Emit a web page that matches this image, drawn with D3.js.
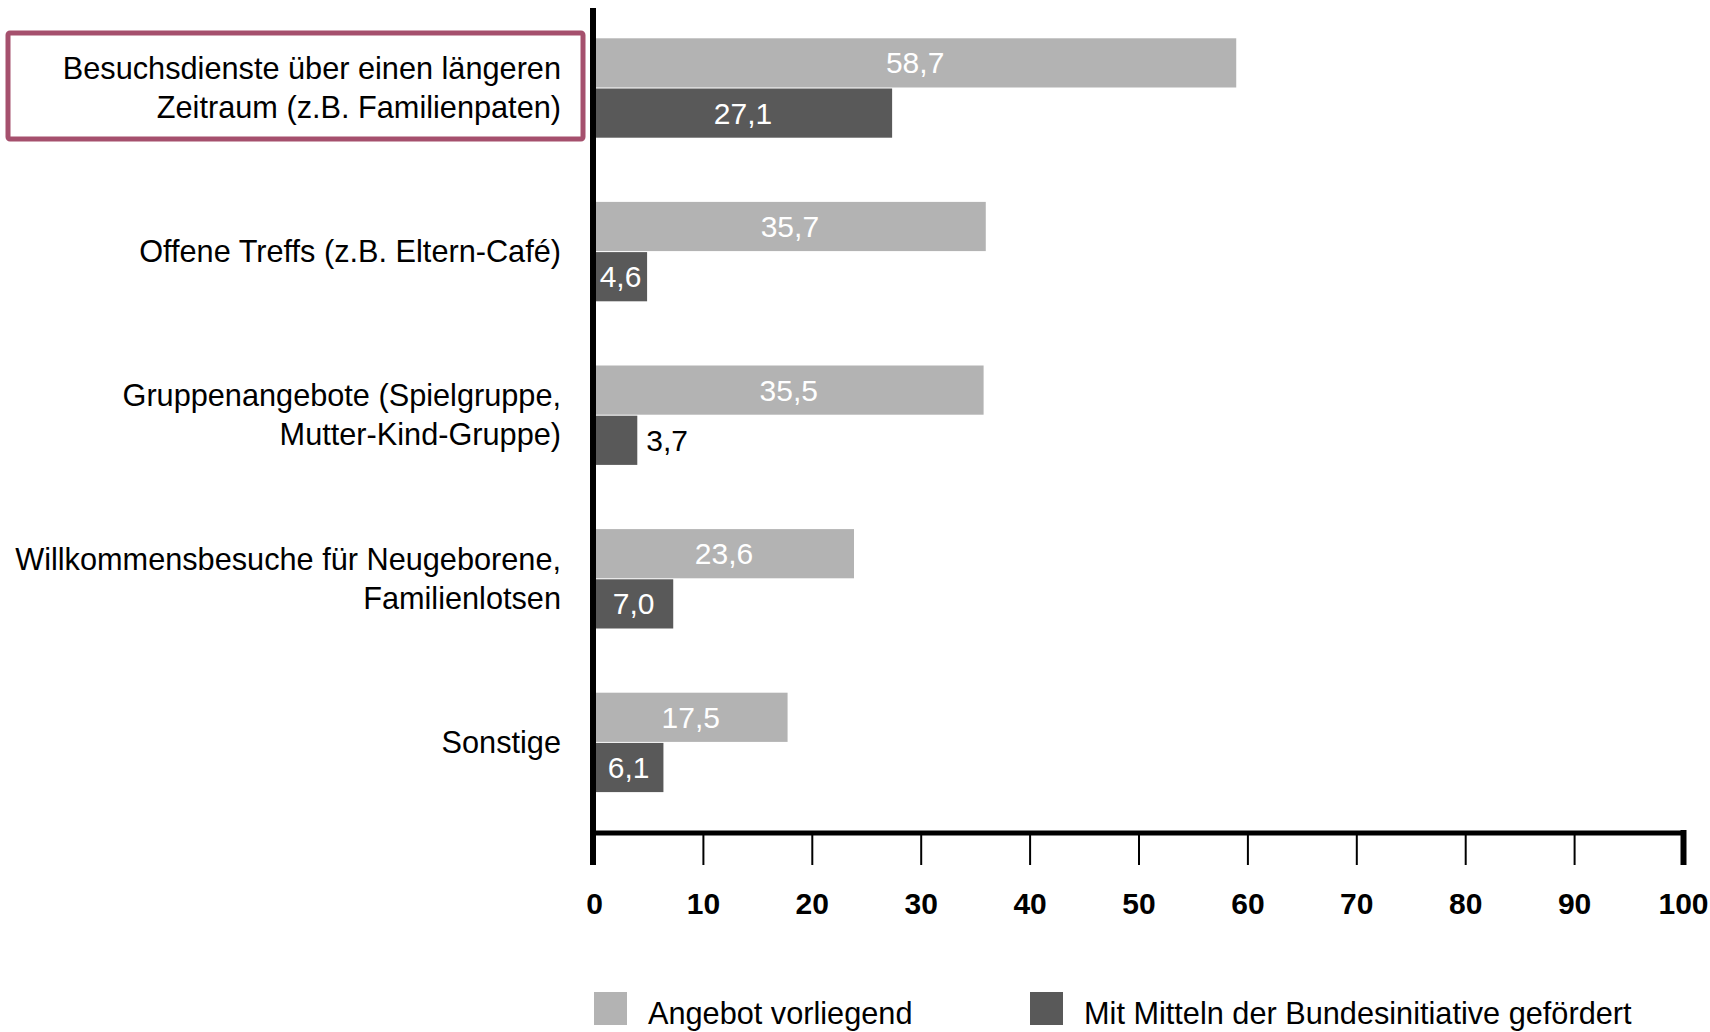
<!DOCTYPE html>
<html><head><meta charset="utf-8">
<script src="https://cdn.jsdelivr.net/npm/d3@7"></script>
<style>html,body{margin:0;padding:0;background:#fff;}svg{display:block;font-family:"Liberation Sans",Arial,sans-serif;}</style>
</head><body>
<svg id="chart" width="1710" height="1032"></svg>
<script>
const categories = [
  ["Besuchsdienste über einen längeren", "Zeitraum (z.B. Familienpaten)"],
  ["Offene Treffs (z.B. Eltern-Café)"],
  ["Gruppenangebote (Spielgruppe,", "Mutter-Kind-Gruppe)"],
  ["Willkommensbesuche für Neugeborene,", "Familienlotsen"],
  ["Sonstige"]
];
const angebot = [58.7, 35.7, 35.5, 23.6, 17.5];
const gefoerdert = [27.1, 4.6, 3.7, 7.0, 6.1];
const seriesNames = ["Angebot vorliegend", "Mit Mitteln der Bundesinitiative gefördert"];
const seriesColors = ["#b3b3b3", "#595959"];
const xTicks = [0, 10, 20, 30, 40, 50, 60, 70, 80, 90, 100];

const svg = d3.select("#chart");
const fmt = v => d3.format(".1f")(v).replace(".", ",");
const catIds = categories.map((c, i) => i);

const x = d3.scaleLinear().domain([0, 100]).range([594, 1683]);
const y = d3.scaleBand().domain(catIds).range([6.2, 6.2 + 5 * 163.6]).paddingInner(0);
const inner = d3.scaleBand().domain([0, 1])
  .range([y.bandwidth() / 2 - 49.7, y.bandwidth() / 2 + 49.7]).paddingInner(0.02);

// highlight box around first label
svg.append("rect").attr("x", 8).attr("y", 33).attr("width", 575).attr("height", 106)
  .attr("rx", 2).attr("fill", "none").attr("stroke", "#a5506d").attr("stroke-width", 5);

// bars
const data = [];
catIds.forEach(i => {
  data.push({cat: i, s: 0, v: angebot[i]});
  data.push({cat: i, s: 1, v: gefoerdert[i]});
});
const g = svg.append("g");
g.selectAll("rect.bar").data(data).join("rect").attr("class", "bar")
  .attr("x", x(0))
  .attr("y", d => y(d.cat) + inner(d.s))
  .attr("width", d => x(d.v) - x(0) + 3)
  .attr("height", inner.bandwidth())
  .attr("fill", d => seriesColors[d.s]);

// value labels
g.selectAll("text.val").data(data).join("text").attr("class", "val")
  .attr("font-size", 30)
  .attr("dy", "0.35em")
  .attr("y", d => y(d.cat) + inner(d.s) + inner.bandwidth() / 2)
  .each(function(d) {
    const t = d3.select(this).text(fmt(d.v));
    const w = this.getComputedTextLength();
    const bw = x(d.v) - x(0) + 3;
    if (w + 4 < bw) {
      t.attr("x", x(0) + bw / 2).attr("text-anchor", "middle").attr("fill", "#fff");
    } else {
      t.attr("x", x(0) + bw + 9).attr("text-anchor", "start").attr("fill", "#000");
    }
  });

// category labels
const lab = svg.append("g");
catIds.forEach(i => {
  const lines = categories[i];
  const cy = y(i) + y.bandwidth() / 2;
  const lh = 39;
  lines.forEach((ln, j) => {
    lab.append("text").attr("x", 561).attr("y", cy + (j - (lines.length - 1) / 2) * lh)
      .attr("dy", "0.35em").attr("text-anchor", "end").attr("font-size", 30.7)
      .attr("fill", "#000").text(ln);
  });
});

// x axis
const axisY = 833;
const xAxis = d3.axisBottom(x).tickValues(xTicks).tickSize(32).tickPadding(28).tickFormat(d3.format("d"));
const ax = svg.append("g").attr("transform", `translate(0,${axisY})`).call(xAxis);
ax.select(".domain").remove();
ax.selectAll(".tick line").attr("stroke", "#000").attr("stroke-width", 2);
ax.selectAll(".tick").filter(d => d === 100).select("line").attr("stroke-width", 6).attr("y1", -3);
ax.selectAll(".tick").filter(d => d === 0).select("line").remove();
ax.selectAll(".tick text").attr("font-size", 30).attr("font-weight", "bold").attr("fill", "#000")
  .attr("font-family", "'Liberation Sans', Arial, sans-serif");
svg.append("line").attr("x1", x(0) - 3).attr("x2", x(100) + 3).attr("y1", axisY).attr("y2", axisY)
  .attr("stroke", "#000").attr("stroke-width", 5);
// y axis
svg.append("line").attr("x1", x(0) - 1).attr("x2", x(0) - 1).attr("y1", 8).attr("y2", 865)
  .attr("stroke", "#000").attr("stroke-width", 6);

// legend
const leg = svg.append("g");
const legX = [594, 1030];
seriesNames.forEach((n, i) => {
  leg.append("rect").attr("x", legX[i]).attr("y", 992).attr("width", 33).attr("height", 33)
    .attr("fill", seriesColors[i]);
  leg.append("text").attr("x", legX[i] + 54).attr("y", 1024).attr("font-size", 30.7)
    .attr("fill", "#000").text(n);
});
</script>
</body></html>
